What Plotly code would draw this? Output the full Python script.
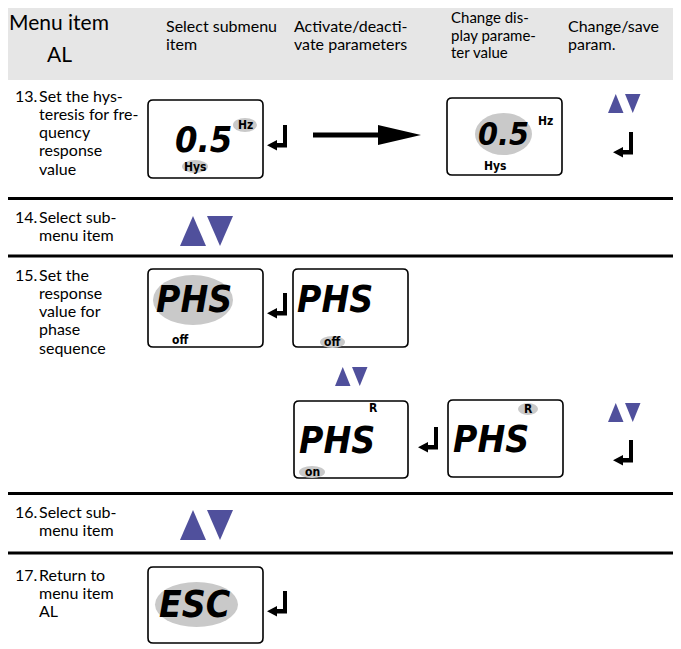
import plotly.graph_objects as go

# ---------------- content ----------------
HEADER_TITLE = ["Menu item", "AL"]
HEADER_COLS = [
    ["Select submenu", "item"],
    ["Activate/deacti-", "vate parameters"],
    ["Change dis-", "play parame-", "ter value"],
    ["Change/save", "param."],
]
STEP_NUMBERS = ["13.", "14.", "15.", "16.", "17."]
STEP_LINES = [
    ["Set the hys-", "teresis for fre-", "quency", "response", "value"],
    ["Select sub-", "menu item"],
    ["Set the", "response", "value for", "phase", "sequence"],
    ["Select sub-", "menu item"],
    ["Return to", "menu item", "AL"],
]
LCD_MAIN = ["0.5", "0.5", "PHS", "PHS", "PHS", "PHS", "ESC"]
LCD_TAGS = [
    [("Hz", True), ("Hys", True)],
    [("Hz", False), ("Hys", False)],
    [("off", False)],
    [("off", True)],
    [("R", False), ("on", True)],
    [("R", True)],
    [],
]

# ---------------- layout geometry ----------------
W, H = 681, 649
PAGE_MARGIN = 8  # browser default body margin around the plot div
HEADER_Y = (3, 80)
RULES_Y = [198.5, 256, 493.5, 553]
HEADER_COL_X = [165, 293, 450, 567]
HEADER_COL_Y0 = [25, 25, 17, 25]
HEADER_GAP = [18.5, 18.5, 17.5, 18.5]
HEADER_SIZE = [16, 16, 15, 16]
STEP_Y0 = [95, 216, 274, 511, 574]
LINE_GAP = 18.3
NUM_X, TXT_X = 14, 38

BOXES = [(148, 100, 263, 178), (447, 98, 562, 175), (148, 269, 263, 347),
         (293, 269, 408, 347), (294, 401, 408, 478), (448, 400, 563, 477),
         (148, 567, 263, 643)]
MAIN_POS = [(203, 139, 36), (503, 134, 32), (194, 299, 37), (335, 299, 37),
            (337, 440, 37), (491, 439, 37), (195, 604, 37)]
MAIN_ELLIPSE = {1: (475, 113, 532, 155), 2: (153, 275, 233, 325), 6: (155, 582, 238, 627)}
TAG_POS = [
    [(245, 125, 233, 118, 257, 132), (195, 167, 182, 160, 208, 173)],
    [(545, 121), (495, 166)],
    [(180, 340)],
    [(332, 342, 320, 336, 345, 348)],
    [(373, 408), (312, 472, 299, 466, 325, 478)],
    [(528, 409, 518, 403, 538, 415)],
    [],
]
RETURNS = [(267, 125), (613, 132), (267, 293), (418, 427), (613, 440), (267, 591)]
TRI_SMALL = [(608, 94), (335, 367), (608, 403)]
TRI_BIG = [(180, 216), (180, 510)]

BLUE = "#50509c"
GREY = "#c9c9c9"
BAND = "#e6e6e6"
FONT = "Lato, 'Open Sans', sans-serif"
LCD_FONT = "'DejaVu Sans Condensed', 'Liberation Sans Narrow', sans-serif"
TAG_FONT = "'Liberation Sans Narrow', 'DejaVu Sans Condensed', Arial, sans-serif"

shapes = []
annotations = []


def ann(x, y, text, size, xanchor="left", font=FONT, color="black"):
    annotations.append(dict(x=x, y=y, xref="x", yref="y", text=text, showarrow=False,
                            xanchor=xanchor, yanchor="middle", borderpad=0,
                            font=dict(family=font, size=size, color=color)))


def rounded(x0, y0, x1, y1, r=5):
    return (f"M {x0+r},{y0} L {x1-r},{y0} Q {x1},{y0} {x1},{y0+r} L {x1},{y1-r} "
            f"Q {x1},{y1} {x1-r},{y1} L {x0+r},{y1} Q {x0},{y1} {x0},{y1-r} "
            f"L {x0},{y0+r} Q {x0},{y0} {x0+r},{y0} Z")


# header band
shapes.append(dict(type="rect", x0=0, x1=W, y0=HEADER_Y[0], y1=HEADER_Y[1],
                   fillcolor=BAND, line=dict(width=0), layer="below"))
ann(59, 21, HEADER_TITLE[0], 21, "center")
ann(59, 53, HEADER_TITLE[1], 21, "center")
for cx, cy, gap, sz, lines in zip(HEADER_COL_X, HEADER_COL_Y0, HEADER_GAP, HEADER_SIZE, HEADER_COLS):
    for i, t in enumerate(lines):
        ann(cx, cy + i * gap, t, sz)

# rules
for ry in RULES_Y:
    shapes.append(dict(type="line", x0=0, x1=W, y0=ry, y1=ry,
                       line=dict(color="black", width=3)))

# step texts
for num, y0, lines in zip(STEP_NUMBERS, STEP_Y0, STEP_LINES):
    ann(NUM_X, y0, num, 16)
    for i, t in enumerate(lines):
        ann(TXT_X, y0 + i * LINE_GAP, t, 16)

# LCD boxes
for i, (x0, y0, x1, y1) in enumerate(BOXES):
    shapes.append(dict(type="path", path=rounded(x0, y0, x1, y1),
                       line=dict(color="black", width=1.6), fillcolor="white"))
    if i in MAIN_ELLIPSE:
        ex0, ey0, ex1, ey1 = MAIN_ELLIPSE[i]
        shapes.append(dict(type="circle", x0=ex0, y0=ey0, x1=ex1, y1=ey1,
                           fillcolor=GREY, line=dict(width=0)))
    mx, my, ms = MAIN_POS[i]
    ann(mx, my, f"<b><i>{LCD_MAIN[i]}</i></b>", ms, "center", LCD_FONT)
    for (tag, hl), pos in zip(LCD_TAGS[i], TAG_POS[i]):
        if hl:
            shapes.append(dict(type="circle", x0=pos[2], y0=pos[3], x1=pos[4], y1=pos[5],
                               fillcolor=GREY, line=dict(width=0)))
        ann(pos[0], pos[1], f"<b>{tag}</b>", 12, "center", TAG_FONT)

# return (enter) arrows
for x0, y0 in RETURNS:
    p = (f"M {x0+16},{y0} L {x0+20},{y0} L {x0+20},{y0+22.5} L {x0+10},{y0+22.5} "
         f"L {x0+10},{y0+25.5} L {x0},{y0+20.2} L {x0+10},{y0+15} L {x0+10},{y0+18} "
         f"L {x0+16},{y0+18} Z")
    shapes.append(dict(type="path", path=p, fillcolor="black", line=dict(width=0)))


def tri_pair(x0, y0, w, h, gap):
    up = f"M {x0},{y0+h} L {x0+w},{y0+h} L {x0+w/2},{y0} Z"
    xd = x0 + w + gap
    dn = f"M {xd},{y0} L {xd+w},{y0} L {xd+w/2},{y0+h} Z"
    for p in (up, dn):
        shapes.append(dict(type="path", path=p, fillcolor=BLUE, line=dict(width=0)))


for x0, y0 in TRI_SMALL:
    tri_pair(x0, y0, 15.5, 19, 1.5)
for x0, y0 in TRI_BIG:
    tri_pair(x0, y0, 26, 30, 1)

# big arrow in row 13
shapes.append(dict(type="path",
                   path="M 313,132.5 L 378,132.5 L 378,125 L 421,135 L 378,145 L 378,137.5 L 313,137.5 Z",
                   fillcolor="black", line=dict(width=0)))

fig = go.Figure()
fig.update_layout(width=W - PAGE_MARGIN, height=H - PAGE_MARGIN,
                  margin=dict(l=0, r=0, t=0, b=0),
                  paper_bgcolor="white", plot_bgcolor="white",
                  xaxis=dict(range=[PAGE_MARGIN, W], visible=False, fixedrange=True),
                  yaxis=dict(range=[H, PAGE_MARGIN], visible=False, fixedrange=True),
                  shapes=shapes, annotations=annotations, showlegend=False)
fig.write_html("out.html")
